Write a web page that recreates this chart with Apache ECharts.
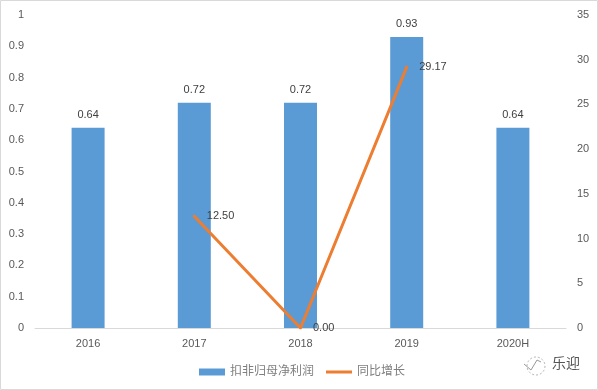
<!DOCTYPE html>
<html>
<head>
<meta charset="utf-8">
<style>
html, body { margin: 0; padding: 0; background: #fff; }
#chart { width: 598px; height: 390px; }
</style>
<script src="https://cdn.jsdelivr.net/npm/echarts@6/dist/echarts.min.js"></script>
</head>
<body>
<div id="chart"></div>
<script>
var categories = ['2016', '2017', '2018', '2019', '2020H'];
var profit = [0.64, 0.72, 0.72, 0.93, 0.64];
var growth = [null, 12.5, 0, 29.17, null];

var fontName = '"Liberation Sans", "Noto Sans CJK SC", sans-serif';
var chart = echarts.init(document.getElementById('chart'));

chart.setOption({
    animation: false,
    backgroundColor: '#fff',
    textStyle: {fontFamily: fontName},
    grid: {left: 35, right: 32, top: 15, bottom: 62},
    legend: {
        bottom: 12,
        left: 199,
        padding: 0,
        itemGap: 12,
        itemWidth: 26,
        itemHeight: 7,
        textStyle: {fontSize: 12, color: '#7f7f7f', fontFamily: fontName},
        data: [
            {name: '扣非归母净利润', icon: 'rect'},
            // thin bar inside a 26x7 box, the specks keep the box size
            {name: '同比增长', icon: 'path://M0 0h0.01v0.01h-0.01z M0 2h26v3h-26z M26 7h-0.01v-0.01h0.01z'}
        ]
    },
    xAxis: {
        type: 'category',
        data: categories,
        axisLine: {lineStyle: {color: '#d9d9d9', width: 1}},
        axisTick: {show: false},
        axisLabel: {fontSize: 11, color: '#595959', margin: 10}
    },
    yAxis: [
        {
            type: 'value',
            min: 0,
            max: 1,
            interval: 0.1,
            splitLine: {show: false},
            axisLine: {show: false},
            axisTick: {show: false},
            axisLabel: {fontSize: 11, color: '#595959', margin: 11}
        },
        {
            type: 'value',
            min: 0,
            max: 35,
            interval: 5,
            splitLine: {show: false},
            axisLine: {show: false},
            axisTick: {show: false},
            axisLabel: {fontSize: 11, color: '#595959', margin: 11}
        }
    ],
    series: [
        {
            name: '扣非归母净利润',
            type: 'bar',
            data: profit,
            barWidth: 33,
            itemStyle: {color: '#5b9bd5'},
            label: {
                show: true,
                position: 'top',
                distance: 7,
                fontSize: 11,
                color: '#404040',
                formatter: function (p) { return p.value.toFixed(2) }
            }
        },
        {
            name: '同比增长',
            type: 'line',
            yAxisIndex: 1,
            data: growth,
            // labels need a symbol to hang on, so keep a tiny one
            symbol: 'circle',
            symbolSize: 1,
            showSymbol: true,
            lineStyle: {color: '#ed7d31', width: 3, cap: 'round', join: 'round'},
            itemStyle: {color: '#ed7d31'},
            label: {
                show: true,
                position: 'right',
                distance: 12,
                fontSize: 11,
                color: '#404040',
                formatter: function (p) { return p.value.toFixed(2) }
            }
        }
    ],
    graphic: [
        {
            type: 'rect',
            silent: true,
            shape: {x: 0.5, y: 0.5, width: 597, height: 389},
            style: {fill: 'none', stroke: '#d9d9d9', lineWidth: 1}
        },
        // watermark bottom right
        {
            type: 'circle',
            silent: true,
            shape: {cx: 536, cy: 366, r: 9},
            style: {fill: 'none', stroke: '#b5b5b5', lineWidth: 1, lineDash: [2, 2]}
        },
        {
            type: 'polyline',
            silent: true,
            shape: {points: [[524, 364], [531, 370], [537, 360], [541, 362]]},
            style: {fill: 'none', stroke: '#999', lineWidth: 1}
        },
        {
            type: 'text',
            silent: true,
            style: {x: 552, y: 357, text: '乐迎', fontSize: 14, fill: '#555', fontFamily: fontName}
        }
    ]
});
</script>
</body>
</html>
